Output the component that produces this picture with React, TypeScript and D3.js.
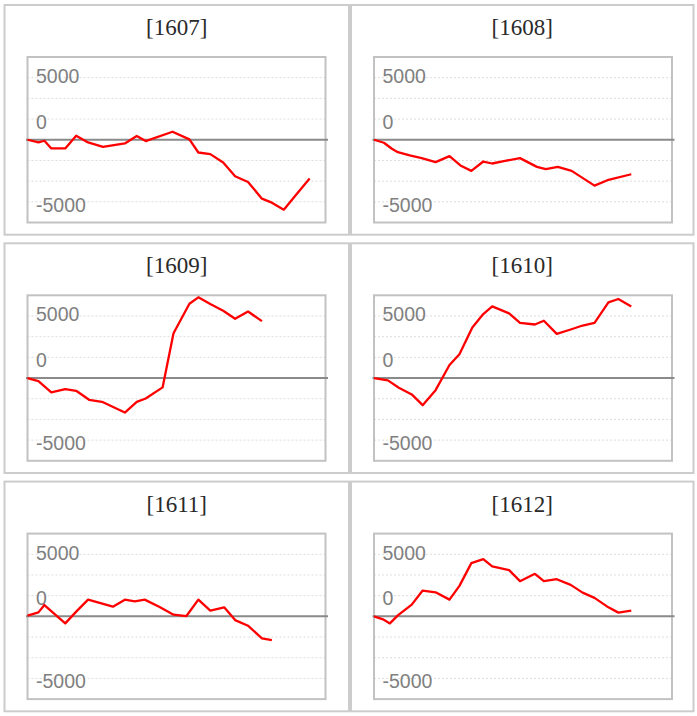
import React from "react";
import * as d3 from "d3";

// month codes shown as panel titles
const months = ["1607", "1608", "1609", "1610", "1611", "1612"];

// x = position within the month, y = running total
const x1607 = [0, 1.1, 1.7, 2.4, 3.8, 4.9, 6.1, 7.6, 9.8, 11, 11.9, 14.6, 16.3, 17.2, 18.4, 19.7, 20.9, 22.2, 23.6, 24.6, 25.8, 27, 28.4];
const y1607 = [0, -320, -120, -1050, -1050, 480, -320, -850, -450, 450, -160, 970, 40, -1540, -1740, -2750, -4410, -5100, -7120, -7600, -8450, -6720, -4690];

const x1608 = [0, 1.0, 1.8, 2.4, 3.6, 4.8, 6.2, 7.6, 8.7, 9.8, 11, 11.9, 13.2, 14.7, 16.4, 17.3, 18.5, 19.9, 22.2, 23.5, 25.9];
const y1608 = [0, -360, -1090, -1500, -1900, -2220, -2710, -1980, -3110, -3760, -2630, -2870, -2550, -2220, -3280, -3560, -3280, -3760, -5540, -4890, -4170];

const x1609 = [0, 1.1, 2.4, 3.8, 4.9, 6.2, 7.5, 9.8, 11, 11.9, 13.6, 14.7, 16.3, 17.2, 18.4, 19.7, 20.9, 22.2, 23.6];
const y1609 = [0, -360, -1740, -1340, -1540, -2630, -2870, -4170, -2870, -2470, -1130, 5420, 8980, 9750, 8940, 8130, 7160, 8050, 6880];

const x1610 = [0, 1.4, 2.5, 3.8, 4.9, 6.2, 7.6, 8.6, 9.9, 11, 11.9, 13.6, 14.7, 16.2, 17.1, 18.4, 19.8, 21, 22.2, 23.6, 24.6, 25.9];
const y1610 = [0, -280, -1170, -1980, -3280, -1460, 1580, 2870, 6110, 7730, 8660, 7810, 6670, 6470, 6920, 5340, 5870, 6350, 6670, 9140, 9550, 8660];

const x1611 = [0, 1.1, 1.7, 3.8, 5.0, 6.1, 8.6, 9.8, 10.8, 11.8, 13.3, 14.7, 16.0, 17.2, 18.4, 19.8, 20.9, 22.2, 23.6, 24.6];
const y1611 = [80, 480, 1370, -850, 690, 2020, 1170, 2020, 1820, 2020, 1130, 200, 40, 2020, 690, 1090, -450, -1130, -2670, -2870];

const x1612 = [0, 0.9, 1.6, 2.4, 3.8, 4.9, 6.2, 7.6, 8.6, 9.8, 11, 11.9, 13.6, 14.7, 16.2, 17.1, 18.4, 19.8, 21, 22.2, 23.6, 24.6, 25.9];
const y1612 = [0, -360, -850, 120, 1420, 3120, 2910, 2020, 3680, 6430, 6920, 6030, 5580, 4250, 5140, 4250, 4490, 3800, 2870, 2230, 1090, 450, 690];

const xSeries = [x1607, x1608, x1609, x1610, x1611, x1612];
const ySeries = [y1607, y1608, y1609, y1610, y1611, y1612];

// dotted grid values and the labels drawn beside three of them
const gridValues = [7500, 5000, 2500, -2500, -5000, -7500];
const tickLabels = ["5000", "0", "-5000"];
const tickLabelAt = [7500, 2500, -7500];

const W = 697;
const H = 716;
const colX = [3.5, 350];
const rowY = [4, 242.3, 480.6];
const panelW = [346.5, 344.5];
const panelH = 231.7;

function Panel({ title, xs, ys, x0, y0, pw }: any) {
  const left = x0 + 24;
  const top = y0 + 53;
  const plotW = 298;
  const plotH = 165.5;

  const xScale = d3.scaleLinear().domain([0, 30]).range([left, left + plotW]);
  const yScale = d3.scaleLinear().domain([-10000, 10000]).range([top + plotH, top]);

  const line = d3
    .line<number>()
    .x((_, i) => xScale(xs[i]))
    .y((d) => yScale(d));

  const labelDy = [5.3, 9.8, 9.8];

  return (
    <g>
      <rect x={x0 + 1} y={y0 + 1} width={pw - 2} height={panelH - 2} fill="#fff" stroke="#cccccc" strokeWidth={2} />
      <text
        x={x0 + pw / 2}
        y={y0 + 31}
        textAnchor="middle"
        fontFamily="'Liberation Serif', serif"
        fontSize={23}
        fill="#2a2a2a"
      >
        {title}
      </text>
      {gridValues.map((v) => (
        <line
          key={v}
          x1={left}
          x2={left + plotW}
          y1={yScale(v)}
          y2={yScale(v)}
          stroke="#dddddd"
          strokeWidth={1}
          strokeDasharray="2,2"
        />
      ))}
      <rect x={left} y={top} width={plotW} height={plotH} fill="none" stroke="#c2c2c2" strokeWidth={2} />
      <line x1={left - 1.5} x2={left + plotW + 2.5} y1={yScale(0)} y2={yScale(0)} stroke="#8a8a8a" strokeWidth={2} />
      {tickLabels.map((t, i) => (
        <text
          key={t}
          x={left + 8.5}
          y={yScale(tickLabelAt[i]) + labelDy[i]}
          fontFamily="'Liberation Sans', Arial, sans-serif"
          fontSize={19.5}
          fill="#808080"
        >
          {t}
        </text>
      ))}
      <path d={line(ys) || ""} fill="none" stroke="#ff0000" strokeWidth={2.3} strokeLinejoin="round" />
    </g>
  );
}

export default function App() {
  return (
    <div style={{ position: "absolute", left: 0, top: 0 }}>
      <svg width={W} height={H} style={{ display: "block", background: "#fff" }}>
        {months.map((m, i) => {
          const c = i % 2;
          const r = Math.floor(i / 2);
          return (
            <Panel
              key={m}
              title={`[${m}]`}
              xs={xSeries[i]}
              ys={ySeries[i]}
              x0={colX[c]}
              y0={rowY[r]}
              pw={panelW[c]}
            />
          );
        })}
      </svg>
    </div>
  );
}
